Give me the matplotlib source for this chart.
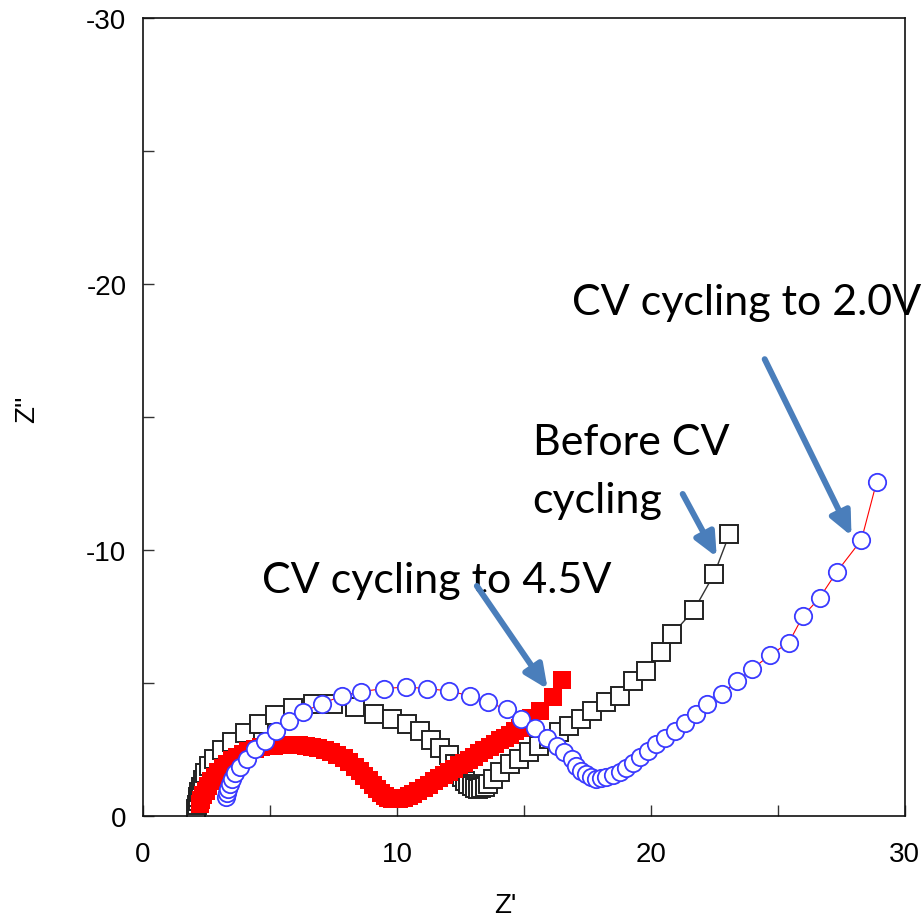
"""Nyquist plot of impedance spectra before and after CV cycling."""

import matplotlib

matplotlib.use("Agg")

import matplotlib.pyplot as plt  # noqa: E402
import matplotlib.patheffects as pe  # noqa: E402

plt.rcParams["axes.unicode_minus"] = False

# Before CV cycling (open black squares)
before_re = [2.10, 2.12, 2.15, 2.18, 2.22, 2.27, 2.35, 2.45, 2.60, 2.80, 3.10,
             3.50, 4.00, 4.55, 5.20, 5.90, 6.70, 7.50, 8.35, 9.10, 9.80, 10.40,
             10.90, 11.35, 11.70, 12.05, 12.30, 12.45, 12.58, 12.70, 12.82,
             12.95, 13.08, 13.20, 13.33, 13.46, 13.60, 13.80, 14.05, 14.45,
             14.80, 15.20, 15.60, 16.00, 16.40, 16.80, 17.27, 17.70, 18.25,
             18.78, 19.30, 19.80, 20.40, 20.85, 21.70, 22.50, 23.10]
before_im = [-0.25, -0.40, -0.55, -0.72, -0.90, -1.10, -1.35, -1.60, -1.88,
             -2.15, -2.47, -2.80, -3.12, -3.45, -3.80, -4.07, -4.22, -4.22,
             -4.10, -3.85, -3.63, -3.45, -3.18, -2.85, -2.55, -2.28, -1.95,
             -1.70, -1.48, -1.32, -1.20, -1.12, -1.06, -1.03, -1.04, -1.10,
             -1.22, -1.40, -1.64, -1.95, -2.14, -2.39, -2.64, -2.90, -3.15,
             -3.40, -3.65, -3.95, -4.27, -4.52, -5.08, -5.46, -6.15, -6.84,
             -7.74, -9.10, -10.60]

# After CV cycling to 4.5V (filled red squares)
v45_re = [2.25, 2.30, 2.38, 2.47, 2.57, 2.68, 2.82, 2.97, 3.13, 3.30, 3.50,
          3.70, 3.92, 4.15, 4.40, 4.65, 4.90, 5.15, 5.40, 5.65, 5.90, 6.15,
          6.40, 6.65, 6.90, 7.15, 7.40, 7.65, 7.90, 8.12, 8.33, 8.53, 8.72,
          8.90, 9.07, 9.23, 9.38, 9.52, 9.66, 9.80, 9.95, 10.10, 10.28, 10.46,
          10.65, 10.85, 11.05, 11.25, 11.45, 11.65, 11.85, 12.05, 12.25, 12.45,
          12.65, 12.85, 13.05, 13.25, 13.45, 13.65, 13.85, 14.05, 14.25, 14.45,
          14.65, 14.85, 15.05, 15.30, 15.63, 16.15, 16.50]
v45_im = [-0.45, -0.60, -0.78, -0.95, -1.12, -1.30, -1.48, -1.65, -1.80,
          -1.95, -2.10, -2.22, -2.34, -2.44, -2.52, -2.58, -2.62, -2.65,
          -2.67, -2.68, -2.68, -2.67, -2.65, -2.61, -2.56, -2.49, -2.40,
          -2.30, -2.17, -2.02, -1.86, -1.69, -1.52, -1.35, -1.18, -1.02,
          -0.88, -0.76, -0.68, -0.63, -0.62, -0.64, -0.68, -0.74, -0.84,
          -0.95, -1.06, -1.18, -1.30, -1.42, -1.54, -1.66, -1.78, -1.90,
          -2.00, -2.10, -2.22, -2.35, -2.48, -2.60, -2.72, -2.84, -2.95,
          -3.06, -3.18, -3.32, -3.48, -3.70, -3.96, -4.49, -5.10]

# After CV cycling to 2.0V (open blue circles)
v20_re = [3.28, 3.30, 3.35, 3.42, 3.50, 3.62, 3.82, 4.08, 4.41, 4.80, 5.24,
          5.75, 6.31, 7.03, 7.82, 8.60, 9.49, 10.35, 11.19, 12.06, 12.87,
          13.60, 14.32, 14.90, 15.46, 15.90, 16.29, 16.60, 16.88, 17.07,
          17.27, 17.47, 17.66, 17.86, 18.05, 18.25, 18.50, 18.78, 19.04,
          19.30, 19.57, 19.90, 20.22, 20.55, 20.94, 21.34, 21.77, 22.23,
          22.82, 23.40, 24.00, 24.70, 25.44, 26.00, 26.65, 27.33, 28.30, 28.90]
v20_im = [-0.70, -0.85, -1.00, -1.20, -1.40, -1.60, -1.83, -2.14, -2.52,
          -2.83, -3.21, -3.58, -3.92, -4.21, -4.52, -4.68, -4.79, -4.85,
          -4.79, -4.70, -4.52, -4.27, -4.02, -3.66, -3.29, -2.95, -2.64,
          -2.39, -2.14, -1.89, -1.70, -1.58, -1.45, -1.39, -1.41, -1.45,
          -1.54, -1.66, -1.82, -2.00, -2.20, -2.45, -2.70, -2.95, -3.21,
          -3.50, -3.83, -4.21, -4.59, -5.08, -5.53, -6.05, -6.52, -7.52,
          -8.20, -9.18, -10.38, -12.56]

ARROW_BLUE = "#4a7ebb"
LABEL_FONT = "Lato"
MS = 12.5

fig = plt.figure(figsize=(9.23, 9.2), dpi=100)
ax = fig.add_axes([0.155, 0.112, 0.825, 0.867])

ax.plot(before_re, before_im, "-", color="#333333", lw=1.0, marker="s",
        ms=MS, mfc="white", mec="#222222", mew=1.4, zorder=2)
ax.plot(v45_re, v45_im, "-", color="red", lw=1.0, marker="s",
        ms=13.5, mfc="red", mec="red", mew=0, zorder=3)
ax.plot(v20_re, v20_im, "-", color="red", lw=0.8, marker="o",
        ms=MS, mfc="white", mec="#3a3aff", mew=1.3, zorder=4)

ax.set_xlim(0, 30)
ax.set_ylim(0, -30)
ax.set_xticks([0, 10, 20, 30])
ax.set_xticks([5, 15, 25], minor=True)
ax.set_yticks([0, -10, -20, -30])
ax.set_yticks([-5, -15, -25], minor=True)
ax.tick_params(which="both", direction="in", length=8, width=1.0,
               color="#333333")
ax.tick_params(axis="x", which="major", pad=18)
ax.tick_params(axis="y", which="major", pad=12)
for lbl in ax.get_xticklabels() + ax.get_yticklabels():
    lbl.set_family("Liberation Sans")
    lbl.set_fontsize(20)
for side in ax.spines.values():
    side.set_linewidth(1.2)
    side.set_color("#111111")

ax.set_xlabel("Z'", family="Liberation Sans", fontsize=20)
ax.set_ylabel("Z''", family="Liberation Sans", fontsize=20)
ax.xaxis.set_label_coords(0.475, -0.095)
ax.yaxis.set_label_coords(-0.135, 0.511)

# Callout labels and arrows
label_kw = dict(family=LABEL_FONT, fontsize=31, color="black",
                ha="left", va="baseline")
ax.text(16.89, -18.87, "CV cycling to 2.0V", **label_kw)
ax.text(15.35, -13.61, "Before CV", **label_kw)
ax.text(15.35, -11.43, "cycling", **label_kw)
ax.text(4.69, -8.42, "CV cycling to 4.5V", **label_kw)

arrows = [((24.49, -17.18), (27.91, -10.53)),
          ((21.26, -12.11), (22.60, -9.74)),
          ((13.15, -8.65), (15.94, -4.77))]
shadow = [pe.SimplePatchShadow(offset=(2, -2), alpha=0.25), pe.Normal()]
for tail, tip in arrows:
    ax.annotate("", xy=tip, xytext=tail, zorder=6,
                arrowprops=dict(arrowstyle="-|>,head_length=0.7,head_width=0.32",
                                mutation_scale=20, lw=4.3, color=ARROW_BLUE,
                                shrinkA=0, shrinkB=0, path_effects=shadow))

fig.savefig("out.png", dpi=100)
plt.close(fig)
